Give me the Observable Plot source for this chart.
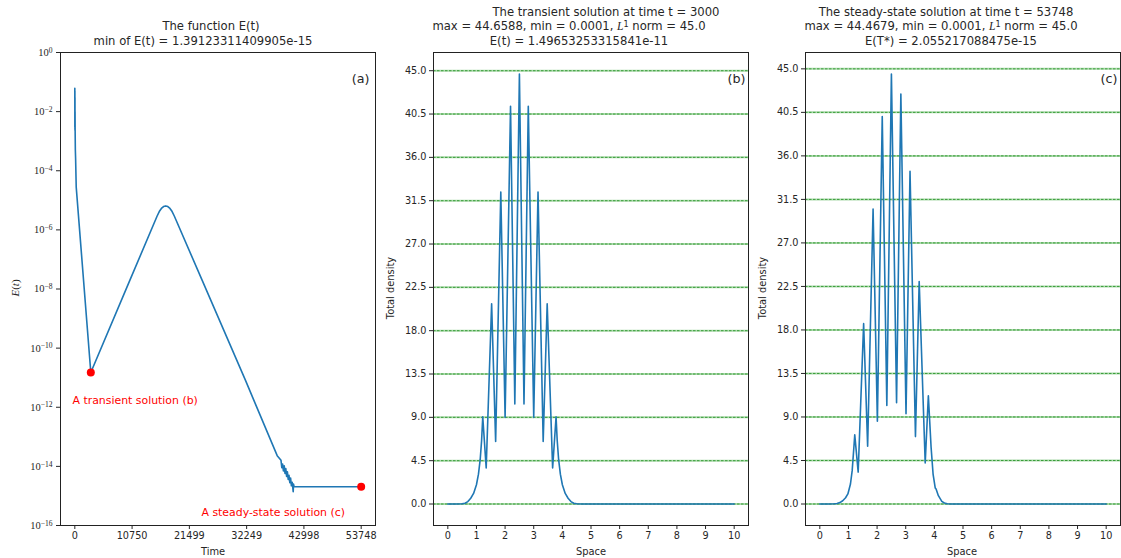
<!DOCTYPE html>
<html>
<head>
<meta charset="utf-8">
<script src="https://cdn.jsdelivr.net/npm/d3@7"></script>
<script src="https://cdn.jsdelivr.net/npm/@observablehq/plot@0.6"></script>
<style>
  html, body { margin: 0; padding: 0; background: #fff; }
  #root { position: relative; width: 1121px; height: 558px; background: #fff; overflow: hidden;
          font-family: "DejaVu Sans", sans-serif; color: #262626; }
  .panel { position: absolute; top: 0; }
  .lbl { position: absolute; white-space: pre; transform: translate(-50%, -50%); line-height: 1; }
  .lbl sup { font-size: 0.7em; vertical-align: 0.45em; line-height: 0; }
</style>
</head>
<body>
<div id="root"></div>
<script>
// ---------------- Data ----------------
// Panel (a): E(t) over time (log scale)
const timeA = [0, 8, 15, 22, 30, 38, 45, 60, 100, 150, 263, 3000,
  10322, 15451, 15850, 16249, 16650, 17052, 17454, 17858, 18263, 18669, 23909, 32036, 37985,
  38700, 38850, 39000, 39150, 39300, 39450, 39600, 39750, 39900, 40050, 40200, 40350, 40500, 40650, 40800, 40988, 41050, 41150, 53748];
const energyA = [6.2e-2, 3.0e-3, 5.0e-2, 2.5e-3, 3.0e-2, 2.3e-3, 1.0e-2, 2.3e-3, 5.0e-4, 2.5e-4, 2.8e-5, 1.49653253315841e-11,
  1.95e-8, 2.95e-6, 4.16e-6, 5.31e-6, 6.15e-6, 6.46e-6, 6.15e-6, 5.31e-6, 4.16e-6, 2.95e-6, 1.95e-8, 8.1e-12, 2.3e-14,
  1.6e-14, 9.0e-15, 1.2e-14, 7.0e-15, 1.05e-14, 5.8e-15, 8.5e-15, 4.6e-15, 6.6e-15, 3.6e-15, 5.0e-15, 2.8e-15, 4.0e-15, 2.2e-15, 2.9e-15, 1.39123311409905e-15, 2.5e-15, 2.055e-15, 2.055217088475e-15];
const markedTimes = [3000, 53748];
const markedEnergies = [1.49653253315841e-11, 2.055217088475e-15];
const markLabels = ["A transient solution (b)", "A steady-state solution (c)"];
const xTicksA = [0, 10750, 21499, 32249, 42998, 53748];
const yTicksA = [1, 1e-2, 1e-4, 1e-6, 1e-8, 1e-10, 1e-12, 1e-14, 1e-16];
const yTickLabelsA = ["10⁰", "10⁻²", "10⁻⁴", "10⁻⁶", "10⁻⁸", "10⁻¹⁰", "10⁻¹²", "10⁻¹⁴", "10⁻¹⁶"];

// Panel (b): transient solution at t = 3000
const spaceB = [0, 0.3, 0.5, 0.6, 0.7, 0.8, 0.9, 1.0, 1.07, 1.13, 1.18, 1.22,
  1.34, 1.53, 1.67, 1.85, 2.0, 2.19, 2.34, 2.5, 2.66, 2.81, 3.0, 3.15, 3.33, 3.47, 3.66,
  3.78, 3.82, 3.87, 3.93, 4.0, 4.1, 4.2, 4.3, 4.4, 4.5, 4.7, 5.0, 10.0];
const densityB = [0.0001, 0.001, 0.02, 0.08, 0.25, 0.6, 1.1, 2.0, 3.1, 4.6, 6.6, 9.05,
  3.74, 20.8, 6.5, 32.4, 9.0, 41.3, 10.4, 44.6588, 10.4, 41.3, 9.0, 32.4, 6.5, 20.8, 3.74,
  9.05, 6.6, 4.6, 3.1, 2.0, 1.1, 0.6, 0.25, 0.08, 0.02, 0.001, 0.0001, 0.0001];

// Panel (c): steady-state solution at t = 53748
const spaceC = [0, 0.3, 0.5, 0.6, 0.7, 0.8, 0.9, 0.98, 1.07, 1.13, 1.19, 1.22,
  1.34, 1.53, 1.67, 1.86, 2.01, 2.18, 2.34, 2.5, 2.68, 2.83, 3.01, 3.15, 3.34, 3.47, 3.68,
  3.79, 3.885, 3.955, 4.03, 4.06, 4.14, 4.26, 4.35, 4.45, 4.6, 5.0, 10.0];
const densityC = [0.0001, 0.001, 0.02, 0.06, 0.15, 0.34, 0.65, 1.04, 2.07, 3.45, 5.9, 7.15,
  3.3, 18.65, 5.97, 30.5, 8.56, 40.06, 10.19, 44.4679, 10.47, 42.4, 9.33, 34.4, 6.97, 23.0, 4.25,
  11.2, 5.9, 3.1, 1.66, 1.55, 0.86, 0.27, 0.1, 0.03, 0.005, 0.0001, 0.0001];

const xTicksBC = [0, 1, 2, 3, 4, 5, 6, 7, 8, 9, 10];
const yTicksBC = [0, 4.5, 9, 13.5, 18, 22.5, 27, 31.5, 36, 40.5, 45];

// ---------------- Helpers ----------------
const root = document.getElementById("root");
const BLUE = "#1f77b4";
const INK = "#262626";
const SANS = "DejaVu Sans";
const TICK = 9.7;

function addLabel(x, y, html, style = {}) {
  const d = document.createElement("div");
  d.className = "lbl";
  d.style.left = x + "px";
  d.style.top = y + "px";
  d.style.fontSize = "11.6px";
  Object.assign(d.style, style);
  d.innerHTML = html;
  root.appendChild(d);
  return d;
}
function place(svg, left) {
  const wrap = document.createElement("div");
  wrap.className = "panel";
  wrap.style.left = left + "px";
  wrap.appendChild(svg);
  root.appendChild(wrap);
}
function padDomain(vals) {
  const [lo, hi] = d3.extent(vals);
  const p = (hi - lo) * 0.05;
  return [lo - p, hi + p];
}
// turn "10⁻²" style tick text into 10 + raised exponent tspan
const SUP = {"⁰":"0","¹":"1","²":"2","³":"3","⁴":"4","⁵":"5","⁶":"6","⁷":"7","⁸":"8","⁹":"9","⁻":"−"};
function raiseExponents(svg) {
  svg.querySelectorAll('g[aria-label="y-axis tick label"] text').forEach(t => {
    const s = t.textContent;
    const base = s.slice(0, 2);
    const exp = Array.from(s.slice(2)).map(c => SUP[c] ?? c).join("");
    t.textContent = base;
    const ts = document.createElementNS("http://www.w3.org/2000/svg", "tspan");
    ts.setAttribute("dy", "-0.42em");
    ts.setAttribute("font-size", "0.72em");
    ts.textContent = exp;
    t.appendChild(ts);
  });
}

// ---------------- Panel (a) ----------------
const dataA = timeA.map((t, i) => ({t, e: energyA[i]}));
const marksA = markedTimes.map((t, i) => ({t, e: markedEnergies[i], label: markLabels[i]}));
const plotA = Plot.plot({
  width: 380, height: 558,
  marginLeft: 60, marginRight: 5, marginTop: 52, marginBottom: 33,
  style: {fontFamily: SANS, fontSize: TICK + "px", color: INK, background: "transparent"},
  x: {domain: padDomain(timeA), axis: null},
  y: {type: "log", domain: [1e-16, 1], axis: null},
  marks: [
    Plot.axisX({ticks: xTicksA, tickFormat: d => String(d), tickSize: 4, tickPadding: 3, label: null, fontSize: TICK}),
    Plot.axisY({ticks: yTicksA, tickFormat: d => yTickLabelsA[yTicksA.indexOf(d)], tickSize: 4, tickPadding: 4,
                label: null, fontFamily: "Liberation Serif", fontSize: 10.5}),
    Plot.line(dataA, {x: "t", y: "e", stroke: BLUE, strokeWidth: 1.6, curve: "linear"}),
    Plot.dot(marksA, {x: "t", y: "e", r: 4, fill: "red", stroke: "none"}),
    Plot.text([marksA[0]], {x: -430, y: 1.7e-12, text: "label", fill: "red", textAnchor: "start", fontSize: 10.9}),
    Plot.text([marksA[1]], {x: 23780, y: 2.8e-16, text: "label", fill: "red", textAnchor: "start", fontSize: 10.9}),
    Plot.text(["(a)"], {frameAnchor: "top-right", dx: -6, dy: 26, text: d => d, fontSize: 12.7, textAnchor: "end", lineAnchor: "middle"}),
    Plot.frame({stroke: "#222", strokeWidth: 1})
  ]
});
raiseExponents(plotA);
place(plotA, 0);

// ---------------- Panels (b) and (c) ----------------
function densityPlot(space, density, width, mL, mR, tag) {
  const data = space.map((s, i) => ({s, v: density[i]}));
  return Plot.plot({
    width, height: 558,
    marginLeft: mL, marginRight: mR, marginTop: 52, marginBottom: 33,
    style: {fontFamily: SANS, fontSize: TICK + "px", color: INK, background: "transparent"},
    x: {domain: padDomain(space), axis: null},
    y: {domain: padDomain(density), axis: null},
    marks: [
      Plot.ruleY(yTicksBC, {stroke: "#2ca02c", strokeOpacity: 0.4, strokeWidth: 2}),
      Plot.ruleY(yTicksBC, {stroke: "green", strokeOpacity: 0.85, strokeWidth: 0.8, strokeDasharray: "2.5,1.5"}),
      Plot.axisX({ticks: xTicksBC, tickFormat: d => String(d), tickSize: 4, tickPadding: 3, label: null, fontSize: TICK}),
      Plot.axisY({ticks: yTicksBC, tickFormat: d => d.toFixed(1), tickSize: 4, tickPadding: 3, label: null, fontSize: TICK}),
      Plot.line(data, {x: "s", y: "v", stroke: BLUE, strokeWidth: 1.6}),
      Plot.text([tag], {frameAnchor: "top-right", dx: -3, dy: 26, text: d => d, fontSize: 12.7, textAnchor: "end", lineAnchor: "middle"}),
      Plot.frame({stroke: "#222", strokeWidth: 1})
    ]
  });
}
place(densityPlot(spaceB, densityB, 372, 53, 4, "(b)"), 380);
place(densityPlot(spaceC, densityC, 371, 55, 1, "(c)"), 750);

// ---------------- Titles and axis labels ----------------
const Lmath = "<i style=\"font-family:'Liberation Serif'\">L</i><sup>1</sup>";
addLabel(211, 27, "The function E(t)");
addLabel(203, 42, "min of E(t) = 1.39123311409905e-15");

addLabel(606, 13, "The transient solution at time t = 3000");
addLabel(569, 27, "max = 44.6588, min = 0.0001, " + Lmath + " norm = 45.0");
addLabel(579, 42, "E(t) = 1.49653253315841e-11");

addLabel(946, 13, "The steady-state solution at time t = 53748");
addLabel(941, 27, "max = 44.4679, min = 0.0001, " + Lmath + " norm = 45.0");
addLabel(951, 42, "E(T*) = 2.055217088475e-15");

addLabel(213, 552, "Time", {fontSize: "9.9px"});
addLabel(591, 552, "Space", {fontSize: "9.9px"});
addLabel(962, 552, "Space", {fontSize: "9.9px"});

addLabel(15, 288, "<i>E</i>(<i>t</i>)", {fontSize: "11px", fontFamily: "'Liberation Serif'", transform: "translate(-50%,-50%) rotate(-90deg)"});
addLabel(391, 288, "Total density", {fontSize: "9.9px", transform: "translate(-50%,-50%) rotate(-90deg)"});
addLabel(763, 288, "Total density", {fontSize: "9.9px", transform: "translate(-50%,-50%) rotate(-90deg)"});
</script>
</body>
</html>
